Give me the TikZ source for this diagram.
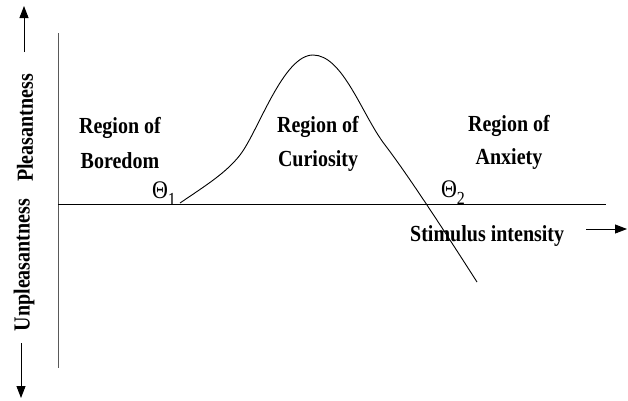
\documentclass[tikz,border=0pt]{standalone}
\usepackage{fontspec}
\setmainfont{Liberation Serif}
\usetikzlibrary{arrows.meta}
\newcommand{\tallt}[1]{\scalebox{1}[1.15]{#1}}
\begin{document}
\begin{tikzpicture}[x=1pt,y=-1pt,
  lbl/.style={font=\fontsize{20}{31}\selectfont\bfseries, anchor=base, inner sep=0pt},
  rlbl/.style={font=\fontsize{20}{31}\selectfont\bfseries, inner sep=0pt, rotate=90},
  theta/.style={font=\fontsize{22}{22}\selectfont, inner sep=0pt, anchor=base},
  axis/.style={line width=0.9pt},
  bigarrow/.style={line width=0.9pt, -{Triangle[length=12pt,width=9pt]}},
  curvestyle/.style={line width=0.9pt}]
\useasboundingbox (0,0) rectangle (628,400);
% axes
\coordinate (vtop) at (58,33);
\coordinate (vbot) at (58,368);
\coordinate (hl) at (58,204);
\coordinate (hr) at (606,204);
\draw[axis, black!65] (vtop) -- (vbot);
\draw[axis] (hl) -- (hr);
% curve
\coordinate (c0) at (180,203);
\coordinate (c1) at (240,155);
\coordinate (c2) at (313,55);
\coordinate (c3) at (385,145);
\coordinate (c4) at (477,282);
\draw[curvestyle] (c0) .. controls (205,186) and (226,173) .. (c1)
  .. controls (258,132) and (283,55) .. (c2)
  .. controls (343,55) and (362,115) .. (c3)
  .. controls (408,175) and (445,232) .. (c4);
% labels
\node[lbl] (bore1) at (120,133) {\tallt{Region of}};
\node[lbl] (bore2) at (120,168) {\tallt{Boredom}};
\node[lbl] (curi1) at (318,132) {\tallt{Region of}};
\node[lbl] (curi2) at (318,166) {\tallt{Curiosity}};
\node[lbl] (anx1) at (509,131) {\tallt{Region of}};
\node[lbl] (anx2) at (509,164) {\tallt{Anxiety}};
\node[lbl, anchor=base west] (stim) at (410,241) {\tallt{Stimulus intensity}};
\node[theta] (t1) at (164,198) {\tallt{Θ\raisebox{-0.3em}{\fontsize{16}{16}\selectfont 1}}};
\node[theta] (t2) at (453,197) {\tallt{Θ\raisebox{-0.3em}{\fontsize{16}{16}\selectfont 2}}};
\node[rlbl] (pleas) at (25,128) {\tallt{Pleasantness}};
\node[rlbl] (unpl) at (24,265) {\tallt{Unpleasantness}};
% arrows
\coordinate (ua0) at (24,52);
\coordinate (ua1) at (24,6);
\coordinate (da0) at (21,343);
\coordinate (da1) at (21,398);
\coordinate (ra0) at (586,229);
\coordinate (ra1) at (627,229);
\draw[bigarrow] (ua0) -- (ua1);
\draw[bigarrow] (da0) -- (da1);
\draw[bigarrow] (ra0) -- (ra1);
\end{tikzpicture}
\end{document}
